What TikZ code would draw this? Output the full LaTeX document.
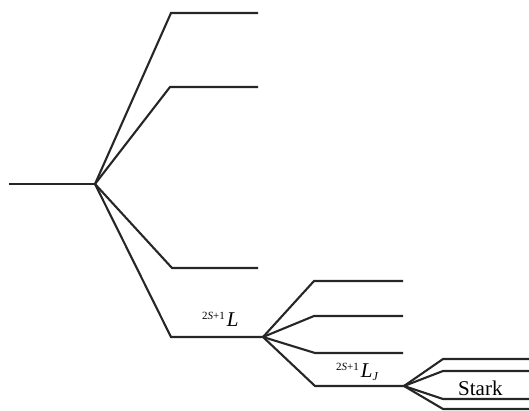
\documentclass[tikz,border=0pt]{standalone}
\usepackage{fontspec}
\setmainfont{Liberation Serif}
\begin{document}
\begin{tikzpicture}[x=1pt,y=-1pt,
  lvl/.style={line width=2.1pt,draw=black!85,line join=miter},
  lbl/.style={inner sep=0pt,anchor=base west}]
\useasboundingbox (0,0) rectangle (529,411);
% root
\coordinate (r0) at (9,184);
\coordinate (r) at (95,184);
\draw[lvl] (r0) -- (r);
% first split
\coordinate (a1) at (171,13);  \coordinate (a1e) at (258,13);
\coordinate (a2) at (170,87);  \coordinate (a2e) at (258,87);
\coordinate (a3) at (172,268); \coordinate (a3e) at (258,268);
\coordinate (a4) at (171,337); \coordinate (L)  at (263,337);
\draw[lvl] (r) -- (a1) -- (a1e);
\draw[lvl] (r) -- (a2) -- (a2e);
\draw[lvl] (r) -- (a3) -- (a3e);
\draw[lvl] (r) -- (a4) -- (L);
% second split
\coordinate (b1) at (314,281); \coordinate (b1e) at (403,281);
\coordinate (b2) at (314,316); \coordinate (b2e) at (403,316);
\coordinate (b3) at (315,353); \coordinate (b3e) at (403,353);
\coordinate (b4) at (315,386); \coordinate (LJ) at (404,386);
\draw[lvl] (L) -- (b1) -- (b1e);
\draw[lvl] (L) -- (b2) -- (b2e);
\draw[lvl] (L) -- (b3) -- (b3e);
\draw[lvl] (L) -- (b4) -- (LJ);
% Stark split
\coordinate (c1) at (443,359); \coordinate (c1e) at (529,359);
\coordinate (c2) at (443,371); \coordinate (c2e) at (529,371);
\coordinate (c3) at (443,399); \coordinate (c3e) at (529,399);
\coordinate (c4) at (443,409); \coordinate (c4e) at (529,409);
\draw[lvl] (LJ) -- (c1) -- (c1e);
\draw[lvl] (LJ) -- (c2) -- (c2e);
\draw[lvl] (LJ) -- (c3) -- (c3e);
\draw[lvl] (LJ) -- (c4) -- (c4e);
% labels
\node[lbl] (tL) at (202,326) {\raisebox{7pt}{\fontsize{11}{12}\selectfont 2\textit{S}+1}\kern2pt{\fontsize{21}{22}\selectfont\itshape L}};
\node[lbl] (tLJ) at (336,377) {\raisebox{7pt}{\fontsize{11}{12}\selectfont 2\textit{S}+1}\kern2pt{\fontsize{21}{22}\selectfont\itshape L}\raisebox{-3pt}{\fontsize{12}{12}\selectfont\itshape J}};
\node[lbl] (tS) at (458,395) {\fontsize{21}{22}\selectfont Stark};
\end{tikzpicture}
\end{document}
